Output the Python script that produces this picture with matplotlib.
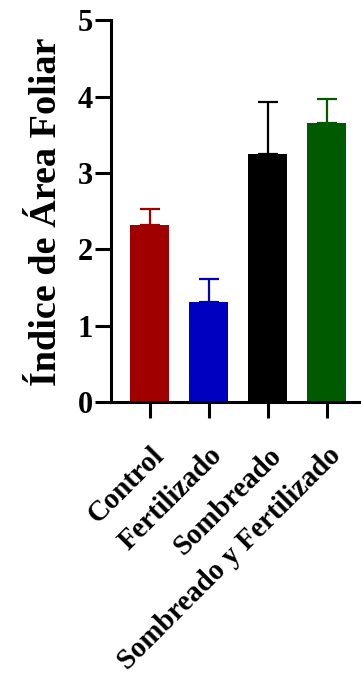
import numpy as np
import matplotlib
matplotlib.use("Agg")
import matplotlib.pyplot as plt
from matplotlib.transforms import ScaledTranslation

# datos
tratamientos = ["Control", "Fertilizado", "Sombreado", "Sombreado y Fertilizado"]
iaf_media = [2.32, 1.31, 3.25, 3.65]
iaf_error = [0.21, 0.30, 0.68, 0.32]
colores = ["#a00000", "#0000c0", "#000000", "#005a00"]

plt.rcParams['font.family'] = ['Liberation Serif', 'DejaVu Serif']
plt.rcParams['font.weight'] = 'bold'

fig = plt.figure(figsize=(3.61, 6.75), dpi=100)
ax = fig.add_axes([0.307, 0.404, 0.69, 0.566])

x = np.arange(len(tratamientos))
for i in range(len(tratamientos)):
    ax.bar(x[i], iaf_media[i], width=0.66, color=colores[i], zorder=2)
    ax.errorbar(x[i], iaf_media[i], yerr=[[0], [iaf_error[i]]], fmt='none',
                ecolor=colores[i], elinewidth=1.6, capsize=7, capthick=1.6, zorder=1)

ax.set_xlim(-0.66, 3.56)
ax.set_ylim(0, 5)
ax.set_yticks([0, 1, 2, 3, 4, 5])
ax.set_xticks(x)
ax.set_xticklabels(tratamientos, rotation=45, ha='right', rotation_mode='anchor',
                   fontsize=20.7, fontweight='bold')
# pequeño corrimiento a la izquierda de las etiquetas
desplazar = ScaledTranslation(-3 / 100, 0, fig.dpi_scale_trans)
for lab in ax.get_xticklabels():
    lab.set_transform(lab.get_transform() + desplazar)
for lab in ax.get_yticklabels():
    lab.set_fontsize(22)
    lab.set_fontweight('bold')

ax.set_ylabel("Índice de Área Foliar", fontsize=27.5, fontweight='bold', labelpad=10)

for s in ['top', 'right']:
    ax.spines[s].set_visible(False)
for s in ['left', 'bottom']:
    ax.spines[s].set_linewidth(2.2)
ax.tick_params(axis='both', width=2.2, length=11.5, pad=1.5)
ax.tick_params(axis='x', pad=17)

plt.savefig("out.png", dpi=100)
